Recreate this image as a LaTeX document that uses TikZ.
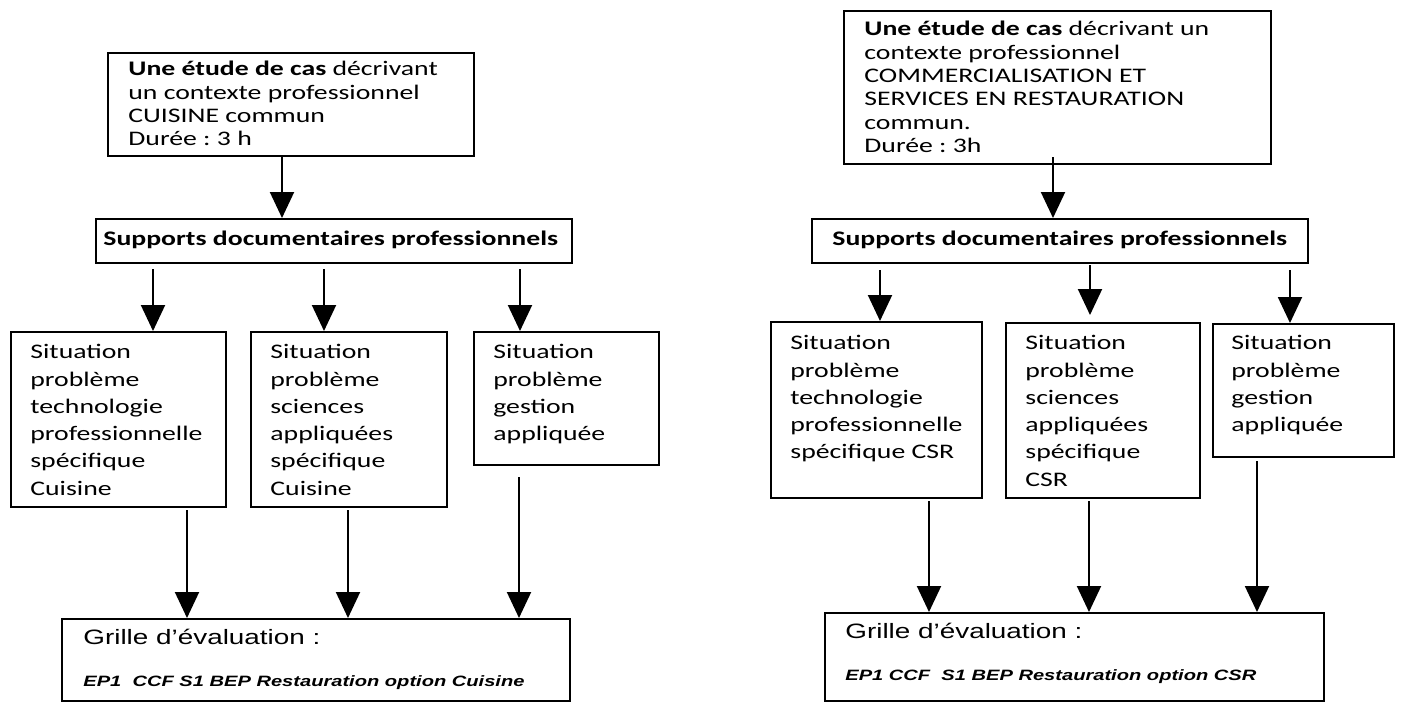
\documentclass[tikz,border=0pt]{standalone}
\usepackage{fontspec}
\setmainfont{Carlito}[FakeStretch=1.34]
\newfontfamily\arialf{Liberation Sans}[FakeStretch=1.34]
\usetikzlibrary{arrows.meta}
\frenchspacing
\begin{document}
\begin{tikzpicture}[x=0.5pt,y=-0.5pt,
  box/.style={draw, line width=1pt, inner sep=0pt, anchor=north west},
  txt/.style={anchor=north west, inner sep=0pt, align=left, font=\fontsize{10.35pt}{11.65pt}\selectfont},
  sit/.style={anchor=north west, inner sep=0pt, align=left, font=\fontsize{10.35pt}{13.65pt}\selectfont},
  sup/.style={anchor=west, inner sep=0pt, font=\fontsize{10.35pt}{11.65pt}\selectfont\bfseries},
  grl/.style={anchor=north west, inner sep=0pt, font=\arialf\fontsize{10.4pt}{12pt}\selectfont},
  ept/.style={anchor=north west, inner sep=0pt, font=\arialf\fontsize{7.5pt}{9pt}\selectfont\bfseries\itshape},
  arr/.style={line width=1pt, -{Triangle[width=12pt,length=13pt]}}]
\fill[white] (0,0) rectangle (1414,702);
\useasboundingbox (0,0) rectangle (1414,702);
% ---------- left ----------
\node[box, minimum width=183pt, minimum height=51.5pt] (t1) at (107,52) {};
\node[box, minimum width=238pt, minimum height=22pt] (s1) at (95,218) {};
\node[box, minimum width=107.5pt, minimum height=87.5pt] (a1) at (10,331) {};
\node[box, minimum width=98pt, minimum height=87.5pt] (a2) at (250,331) {};
\node[box, minimum width=92.5pt, minimum height=66.5pt] (a3) at (473,331) {};
\node[box, minimum width=254pt, minimum height=41pt] (g1) at (61,618) {};
\node[txt] (t1t) at (128,61) {\textbf{Une étude de cas} décrivant\\un contexte professionnel\\CUISINE commun\\Durée : 3 h};
\node[sup] (s1t) at (103,240) {Supports documentaires professionnels};
\node[sit] (a1t) at (30,344) {Situation\\problème\\technologie\\professionnelle\\spécifique\\Cuisine};
\node[sit] (a2t) at (270,344) {Situation\\problème\\sciences\\appliquées\\spécifique\\Cuisine};
\node[sit] (a3t) at (493,344) {Situation\\problème\\gestion\\appliquée};
\node[grl] (g1a) at (83,629) {Grille d’évaluation :};
\node[ept] (g1b) at (83,675) {EP1\ \ CCF S1 BEP Restauration option Cuisine};
\coordinate (L0) at (282,0);
\coordinate (L1) at (153,0);
\coordinate (L2) at (324,0);
\coordinate (L3) at (520,0);
\coordinate (M1) at (187,0);
\coordinate (M2) at (348,0);
\coordinate (M3) at (519,0);
\draw[arr] (t1.south -| L0) -- (s1.north -| L0);
\draw[arr] ([yshift=-2.5pt]s1.south -| L1) -- (a1.north -| L1);
\draw[arr] ([yshift=-2.5pt]s1.south -| L2) -- (a2.north -| L2);
\draw[arr] ([yshift=-2.5pt]s1.south -| L3) -- (a3.north -| L3);
\draw[arr] ([yshift=-1pt]a1.south -| M1) -- (g1.north -| M1);
\draw[arr] ([yshift=-1pt]a2.south -| M2) -- (g1.north -| M2);
\draw[arr] ([yshift=-5.5pt]a3.south -| M3) -- (g1.north -| M3);
% ---------- right ----------
\node[box, minimum width=213.5pt, minimum height=76.5pt] (t2) at (843,10) {};
\node[box, minimum width=248pt, minimum height=22pt] (s2) at (811,218) {};
\node[box, minimum width=105.5pt, minimum height=88pt] (b1) at (770,321) {};
\node[box, minimum width=97pt, minimum height=87.5pt] (b2) at (1005,322) {};
\node[box, minimum width=90.5pt, minimum height=66.5pt] (b3) at (1212,323) {};
\node[box, minimum width=249.5pt, minimum height=44pt] (g2) at (824,612) {};
\node[txt] (t2t) at (864,21) {\textbf{Une étude de cas} décrivant un\\contexte professionnel\\COMMERCIALISATION ET\\SERVICES EN RESTAURATION\\commun.\\Durée : 3h};
\node[sup] (s2t) at (832,240) {Supports documentaires professionnels};
\node[sit] (b1t) at (790,335) {Situation\\problème\\technologie\\professionnelle\\spécifique CSR};
\node[sit] (b2t) at (1025,335) {Situation\\problème\\sciences\\appliquées\\spécifique\\CSR};
\node[sit] (b3t) at (1231,335) {Situation\\problème\\gestion\\appliquée};
\node[grl] (g2a) at (845,623) {Grille d’évaluation :};
\node[ept] (g2b) at (845,669) {EP1 CCF\ \ S1 BEP Restauration option CSR};
\coordinate (R0) at (1053,0);
\coordinate (R1) at (880,0);
\coordinate (R2) at (1090,0);
\coordinate (R3) at (1290,0);
\coordinate (N1) at (929,0);
\coordinate (N2) at (1089,0);
\coordinate (N3) at (1257,0);
\draw[arr] ([yshift=4pt]t2.south -| R0) -- (s2.north -| R0);
\draw[arr] ([yshift=-3pt]s2.south -| R1) -- (b1.north -| R1);
\draw[arr] ([yshift=-0.5pt]s2.south -| R2) -- ([yshift=3.5pt]b2.north -| R2);
\draw[arr] ([yshift=-3pt]s2.south -| R3) -- (b3.north -| R3);
\draw[arr] ([yshift=-1pt]b1.south -| N1) -- (g2.north -| N1);
\draw[arr] ([yshift=-1pt]b2.south -| N2) -- (g2.north -| N2);
\draw[arr] ([yshift=-1.5pt]b3.south -| N3) -- (g2.north -| N3);
\end{tikzpicture}
\end{document}
